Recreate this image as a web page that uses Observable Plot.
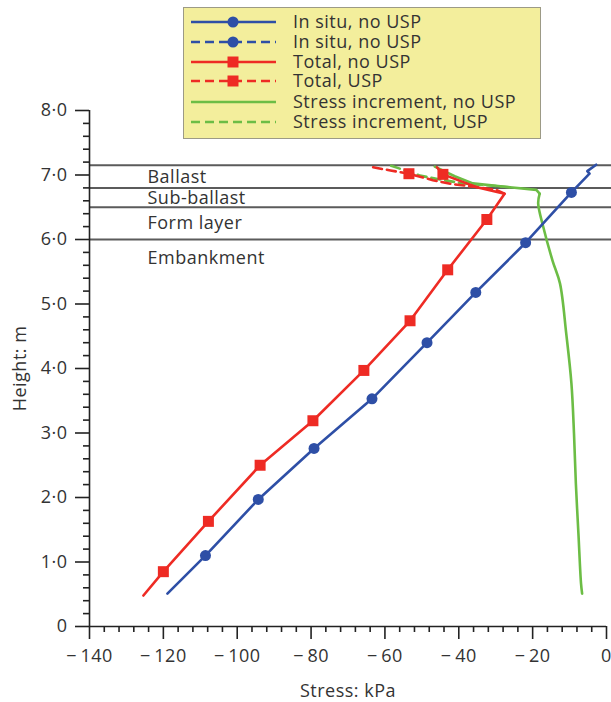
<!DOCTYPE html>
<html>
<head>
<meta charset="utf-8">
<script src="https://cdn.jsdelivr.net/npm/d3@7"></script>
<script src="https://cdn.jsdelivr.net/npm/@observablehq/plot@0.6"></script>
<style>
  body { margin: 0; background: #fff; font-family: "Open Sans", sans-serif; }
  #wrap { position: relative; width: 611px; height: 702px; }
  #legend { position: absolute; left: 183px; top: 7px; }
  svg text { letter-spacing: 0.5px; }
</style>
</head>
<body>
<div id="wrap">
  <div id="chart"></div>
  <div id="legend"></div>
</div>
<script>
// Vertical stress profiles through the track bed (height in m, stress in kPa)

// In situ stress (no USP)
const inSituHeight = [0.51, 1.10, 1.97, 2.76, 3.53, 4.40, 5.18, 5.95, 6.73, 7.02, 7.06, 7.16];
const inSituStress = [-118.9, -108.6, -94.3, -79.2, -63.5, -48.6, -35.4, -21.9, -9.5, -4.6, -5.2, -2.8];
const inSituMarkerHeight = [1.10, 1.97, 2.76, 3.53, 4.40, 5.18, 5.95, 6.73];
const inSituMarkerStress = [-108.6, -94.3, -79.2, -63.5, -48.6, -35.4, -21.9, -9.5];

// Total stress, no USP
const totalHeight = [0.48, 0.85, 1.63, 2.50, 3.19, 3.97, 4.74, 5.53, 6.31, 6.71, 6.81, 7.01, 7.12];
const totalStress = [-125.4, -120.0, -107.8, -93.8, -79.5, -65.7, -53.2, -43.0, -32.4, -27.6, -35.1, -44.3, -45.9];
const totalMarkerHeight = [0.85, 1.63, 2.50, 3.19, 3.97, 4.74, 5.53, 6.31, 7.01];
const totalMarkerStress = [-120.0, -107.8, -93.8, -79.5, -65.7, -53.2, -43.0, -32.4, -44.3];

// Total stress with USP (differs only in the upper layers)
const totalUspHeight = [7.12, 7.07, 7.02, 6.92, 6.86, 6.82, 6.77, 6.71];
const totalUspStress = [-63.2, -58.5, -53.5, -47.0, -42.0, -36.0, -30.0, -27.6];
const totalUspMarkerHeight = [7.02];
const totalUspMarkerStress = [-53.5];

// Stress increment, no USP: smooth lower part, sharp turn at the sub-ballast
const incrLowHeight = [0.51, 0.67, 1.44, 2.22, 2.99, 3.77, 4.54, 5.32, 5.67, 6.19, 6.56, 6.71];
const incrLowStress = [-6.6, -6.9, -7.6, -8.3, -8.8, -9.5, -10.9, -12.6, -14.6, -17.1, -18.5, -18.1];
const incrTopHeight = [6.71, 6.77, 6.81, 6.87, 6.98, 7.13];
const incrTopStress = [-18.1, -19.0, -26.2, -36.2, -41.1, -46.5];

// Stress increment with USP
const incrUspHeight = [6.81, 6.83, 6.87, 6.93, 6.99, 7.07, 7.15];
const incrUspStress = [-26.2, -30.0, -38.9, -45.1, -50.5, -54.5, -58.6];

// Layer boundaries and names
const layerTops = [7.15, 6.8, 6.5, 6.0];
const layerNames = ["Ballast", "Sub-ballast", "Form layer", "Embankment"];
const layerLabelHeight = [6.96, 6.64, 6.25, 5.71];

// Axis ticks
const xMajorTicks = [-140, -120, -100, -80, -60, -40, -20, 0];
const xMinorTicks = d3.range(-140, 0.1, 4).filter(v => v % 20 !== 0);
const yMajorTicks = [0, 1, 2, 3, 4, 5, 6, 7, 8];
const yMinorTicks = d3.range(0, 8.01, 0.2).map(v => +v.toFixed(1)).filter(v => Math.abs(v - Math.round(v)) > 1e-6);

// Legend entries
const legendLabels = ["In situ, no USP", "In situ, no USP", "Total, no USP", "Total, USP", "Stress increment, no USP", "Stress increment, USP"];
const legendColors = ["#2e4fa6", "#2e4fa6", "#ee2b24", "#ee2b24", "#6cbd45", "#6cbd45"];
const legendDashed = [false, true, false, true, false, true];
const legendSymbols = ["circle", "circle", "square", "square", null, null];

const BLUE = "#2e4fa6", RED = "#ee2b24", GREEN = "#6cbd45";
const DASH = "9,5";

const pts = (hs, ss) => hs.map((h, i) => ({h, s: ss[i]}));
const inSitu = pts(inSituHeight, inSituStress);
const inSituMarks = pts(inSituMarkerHeight, inSituMarkerStress);
const total = pts(totalHeight, totalStress);
const totalMarks = pts(totalMarkerHeight, totalMarkerStress);
const totalUsp = pts(totalUspHeight, totalUspStress);
const totalUspMarks = pts(totalUspMarkerHeight, totalUspMarkerStress);
const incrLow = pts(incrLowHeight, incrLowStress);
const incrTop = pts(incrTopHeight, incrTopStress);
const incrUsp = pts(incrUspHeight, incrUspStress);

const fmtY = d => d === 0 ? "0" : d.toFixed(1).replace(".", "·");
const fmtX = d => d === 0 ? "0" : (d < 0 ? "−\u2009" + Math.abs(d) : String(d));

const axisStyle = {stroke: "#222", strokeWidth: 1.6};

const chart = Plot.plot({
  width: 611,
  height: 702,
  marginLeft: 89,
  marginRight: 5,
  marginTop: 110,
  marginBottom: 76,
  x: {domain: [-140, 0], label: null},
  y: {domain: [0, 8], label: null},
  style: {fontFamily: "Open Sans, sans-serif", fontSize: "18px", color: "#333", background: "#fff"},
  marks: [
    // layer boundaries
    Plot.ruleY(layerTops, {x1: -140, x2: 1.5, stroke: "#5b5b5b", strokeWidth: 2}),
    Plot.text(layerNames, {
      x: -124.3, y: (d, i) => layerLabelHeight[i], text: d => d,
      textAnchor: "start", lineAnchor: "middle", fontSize: 18, fill: "#333"
    }),

    // axes
    Plot.ruleY([0], {x1: -140, x2: 0, ...axisStyle}),
    Plot.ruleX([-140], {y1: 0, y2: 8, ...axisStyle}),
    Plot.axisX({ticks: xMajorTicks, tickSize: 13, tickPadding: 10, tickFormat: fmtX, fontSize: 18, fill: "#333", ...axisStyle,
      label: "Stress: kPa", labelArrow: "none", labelAnchor: "center", labelOffset: 70}),
    Plot.axisX({ticks: xMinorTicks, tickSize: 6, tickFormat: () => "", label: null, ...axisStyle}),
    Plot.axisY({ticks: yMajorTicks, tickSize: 14, tickPadding: 8, tickFormat: fmtY, fontSize: 18, fill: "#333", ...axisStyle,
      label: "Height: m", labelArrow: "none", labelAnchor: "center", labelOffset: 76}),
    Plot.axisY({ticks: yMinorTicks, tickSize: 6, tickFormat: () => "", label: null, ...axisStyle}),

    // stress increment
    Plot.line(incrLow, {x: "s", y: "h", stroke: GREEN, strokeWidth: 2.6, curve: "catmull-rom"}),
    Plot.line(incrTop, {x: "s", y: "h", stroke: GREEN, strokeWidth: 2.6}),
    Plot.line(incrUsp, {x: "s", y: "h", stroke: GREEN, strokeWidth: 2.6, strokeDasharray: DASH}),

    // in situ
    Plot.line(inSitu, {x: "s", y: "h", stroke: BLUE, strokeWidth: 2.6}),
    Plot.dot(inSituMarks, {x: "s", y: "h", r: 5.5, fill: BLUE, stroke: "none", symbol: "circle"}),

    // total
    Plot.line(totalUsp, {x: "s", y: "h", stroke: RED, strokeWidth: 2.6, strokeDasharray: DASH}),
    Plot.dot(totalUspMarks, {x: "s", y: "h", r: 6.2, fill: RED, stroke: "none", symbol: "square"}),
    Plot.line(total, {x: "s", y: "h", stroke: RED, strokeWidth: 2.6}),
    Plot.dot(totalMarks, {x: "s", y: "h", r: 6.2, fill: RED, stroke: "none", symbol: "square"})
  ]
});
document.getElementById("chart").append(chart);

// Legend box
const lw = 358, lh = 132;
const leg = d3.select("#legend").append("svg")
  .attr("width", lw).attr("height", lh)
  .style("font-family", "Open Sans, sans-serif");
leg.append("rect").attr("x", 0.5).attr("y", 0.5).attr("width", lw - 1).attr("height", lh - 1)
  .attr("fill", "#f3ee9c").attr("stroke", "#9c9a86");
const rowY = [15, 35, 55, 74, 95, 115];
legendLabels.forEach((label, i) => {
  const g = leg.append("g").attr("transform", `translate(0,${rowY[i]})`);
  g.append("line").attr("x1", 8).attr("x2", 93).attr("y1", 0).attr("y2", 0)
    .attr("stroke", legendColors[i]).attr("stroke-width", 2.6)
    .attr("stroke-dasharray", legendDashed[i] ? DASH : null);
  if (legendSymbols[i]) {
    const sym = legendSymbols[i] === "circle" ? d3.symbolCircle : d3.symbolSquare;
    const size = legendSymbols[i] === "circle" ? Math.PI * 5.5 * 5.5 : Math.PI * 6.2 * 6.2;
    g.append("path").attr("transform", "translate(50,0)")
      .attr("d", d3.symbol(sym, size)()).attr("fill", legendColors[i]);
  }
  g.append("text").attr("x", 110).attr("y", 0).attr("dy", "0.35em")
    .attr("font-size", 18).attr("fill", "#333").text(label);
});
</script>
</body>
</html>
